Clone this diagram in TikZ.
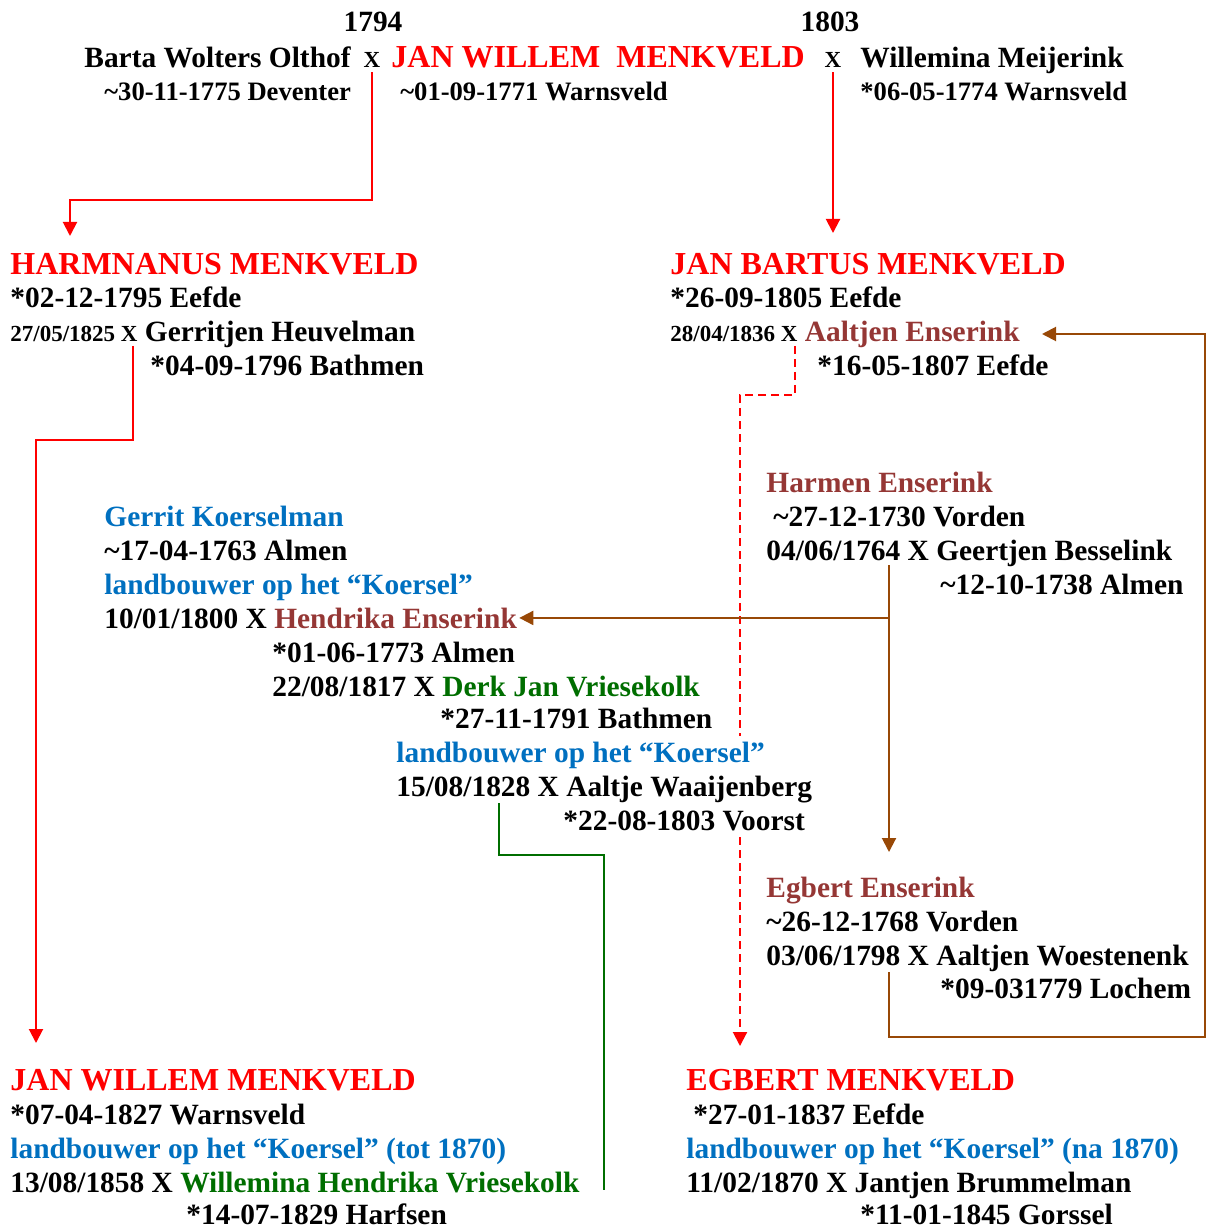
\documentclass[tikz,border=0pt]{standalone}
\usepackage{fontspec}
\setmainfont{Liberation Serif}
\usetikzlibrary{arrows.meta}

\definecolor{menkred}{RGB}{255,0,0}
\definecolor{enserbrown}{RGB}{149,55,53}
\definecolor{koerblue}{RGB}{0,112,192}
\definecolor{vriesgreen}{RGB}{0,110,0}
\definecolor{linebrown}{RGB}{152,72,6}

\newcommand{\fbody}{\fontsize{14.7}{17}\selectfont\bfseries}
\newcommand{\fdate}{\fontsize{13.3}{16}\selectfont\bfseries}
\newcommand{\fhead}{\fontsize{16}{19}\selectfont\bfseries}
\newcommand{\fsmall}{\fontsize{11.5}{14}\selectfont\bfseries}
\newcommand{\bapt}{\textasciitilde}

\begin{document}
\begin{tikzpicture}[x=0.5pt, y=-0.5pt,
    every node/.style={inner sep=0pt, anchor=base west, font=\fbody},
    head/.style={text=menkred, font=\fhead},
    topdate/.style={font=\fdate},
    farm/.style={text=koerblue},
    enser/.style={text=enserbrown},
    masked/.style={fill=white, inner ysep=3pt},
    redlink/.style={menkred, line width=1pt},
    brownlink/.style={linebrown, line width=1pt},
    greenlink/.style={vriesgreen, line width=1pt},
    >={Triangle[length=7pt, width=7pt]}]

    \useasboundingbox (0,0) rectangle (1206,1229);

    % Parents at the top
    \node[anchor=base] (yearA) at (373,32) {1794};
    \node[anchor=base] (yearB) at (830,32) {1803};
    \node (barta) at (84,68) {Barta Wolters Olthof};
    \node[anchor=base, font=\fsmall] (xA) at (372,68) {X};
    \node[head] (jwsen) at (391,68) {JAN WILLEM\ \ MENKVELD};
    \node[anchor=base, font=\fsmall] (xB) at (833,68) {X};
    \node (willemina) at (860,68) {Willemina Meijerink};
    \node[topdate] (bartadate) at (104,101) {\bapt30-11-1775 Deventer};
    \node[topdate] (jwsendate) at (400,101) {\bapt01-09-1771 Warnsveld};
    \node[topdate] (willdate) at (860,101) {*06-05-1774 Warnsveld};

    % Harmnanus
    \node[head] (harm) at (10,275) {HARMNANUS MENKVELD};
    \node (harmborn) at (10,308) {*02-12-1795 Eefde};
    \node (harmwed) at (10,342) {{\fsmall 27/05/1825 X} Gerritjen Heuvelman};
    \node (harmwife) at (150,376) {*04-09-1796 Bathmen};

    % Jan Bartus
    \node[head] (jb) at (670,275) {JAN BARTUS MENKVELD};
    \node (jbborn) at (670,308) {*26-09-1805 Eefde};
    \node (jbwed) at (670,342) {{\fsmall 28/04/1836 X} \textcolor{enserbrown}{Aaltjen Enserink}};
    \node (jbwife) at (817,376) {*16-05-1807 Eefde};

    % Harmen Enserink
    \node[enser] (harmen) at (766,492) {Harmen Enserink};
    \node (harmenbapt) at (773,526) {\bapt27-12-1730 Vorden};
    \node (harmenwed) at (766,560) {04/06/1764 X Geertjen Besselink};
    \node (harmenwife) at (940,594) {\bapt12-10-1738 Almen};

    % Gerrit Koerselman
    \node[farm] (gerrit) at (104,526) {Gerrit Koerselman};
    \node (gerritbapt) at (104,560) {\bapt17-04-1763 Almen};
    \node[farm] (gerritfarm) at (104,594) {landbouwer op het “Koersel”};
    \node (gerritwed) at (104,628) {10/01/1800 X \textcolor{enserbrown}{Hendrika Enserink}};
    \node (hendrika) at (272,662) {*01-06-1773 Almen};
    \node (hendwed) at (272,696) {22/08/1817 X \textcolor{vriesgreen}{Derk Jan Vriesekolk}};
    \node (derk) at (440,728) {*27-11-1791 Bathmen};

    % Egbert Enserink
    \node[enser] (egbE) at (766,897) {Egbert Enserink};
    \node (egbEbapt) at (766,931) {\bapt26-12-1768 Vorden};
    \node (egbEwed) at (766,965) {03/06/1798 X Aaltjen Woestenenk};
    \node (egbEwife) at (940,998) {*09-031779 Lochem};

    % Jan Willem (junior)
    \node[head] (jwjun) at (10,1090) {JAN WILLEM MENKVELD};
    \node (jwjunborn) at (10,1124) {*07-04-1827 Warnsveld};
    \node[farm] (jwjunfarm) at (10,1158) {landbouwer op het “Koersel” (tot 1870)};
    \node (jwjunwed) at (10,1192) {13/08/1858 X \textcolor{vriesgreen}{Willemina Hendrika Vriesekolk}};
    \node (jwjunwife) at (186,1224) {*14-07-1829 Harfsen};

    % Egbert Menkveld
    \node[head] (egbert) at (686,1090) {EGBERT MENKVELD};
    \node (egbertborn) at (693,1124) {*27-01-1837 Eefde};
    \node[farm] (egbertfarm) at (686,1158) {landbouwer op het “Koersel” (na 1870)};
    \node (egbertwed) at (686,1192) {11/02/1870 X Jantjen Brummelman};
    \node (egbertwife) at (860,1224) {*11-01-1845 Gorssel};

    % Jan Bartus -> Egbert (dashed, runs behind the text box)
    \coordinate (jbx) at (795,346);
    \coordinate (jbbend) at (740,395);
    \coordinate (egbertin) at (740,1046);
    \draw[redlink, dash pattern=on 4pt off 2.5pt, ->] (jbx) |- (jbbend) -- (egbertin);

    % Text box over the dashed line
    \node[farm, masked] (derkfarm) at (396,762) {landbouwer op het “Koersel”};
    \node[masked] (derkwed) at (396,796) {15/08/1828 X Aaltje Waaijenberg};
    \node[masked] (aaltje) at (563,830) {*22-08-1803 Voorst};

    % Top parents -> sons
    \coordinate (harmbend) at (70,200);
    \coordinate (harmin) at (70,236);
    \draw[redlink, ->] ([yshift=-2pt]xA.south) |- (harmbend) -- (harmin);
    \coordinate (jbin) at (833,233);
    \draw[redlink, ->] ([yshift=-2pt]xB.south) -- (jbin);

    % Harmnanus -> Jan Willem
    \coordinate (harmx) at (133,346);
    \coordinate (harmbend2) at (36,440);
    \coordinate (jwjunin) at (36,1043);
    \draw[redlink, ->] (harmx) |- (harmbend2) -- (jwjunin);

    % Harmen Enserink -> Egbert and Hendrika
    \coordinate (harmenx) at (889,565);
    \coordinate (egbEin) at (889,852);
    \draw[brownlink, ->] (harmenx) -- (egbEin);
    \draw[brownlink, ->] (harmenx |- gerritwed.east) -- ([xshift=1pt]gerritwed.east);

    % Egbert Enserink -> Aaltjen
    \coordinate (egbEx) at (889,972);
    \coordinate (rightlow) at (1205,1037);
    \coordinate (aaltjenin) at (1042,334);
    \draw[brownlink, ->] (egbEx) |- (rightlow) |- (aaltjenin);

    % Vriesekolk -> Willemina Hendrika
    \coordinate (derkx) at (499,803);
    \coordinate (greenbend) at (604,855);
    \coordinate (greenend) at (604,1190);
    \draw[greenlink] (derkx) |- (greenbend) -- (greenend);
\end{tikzpicture}
\end{document}
